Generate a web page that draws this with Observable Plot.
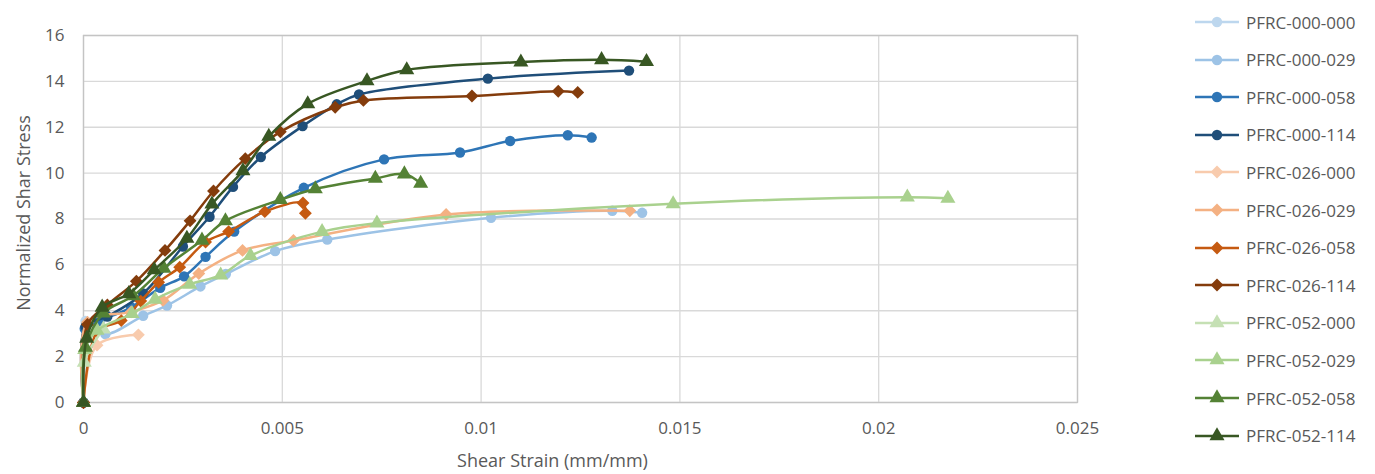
<!DOCTYPE html>
<html>
<head>
<meta charset="utf-8">
<script src="https://cdn.jsdelivr.net/npm/d3@7"></script>
<script src="https://cdn.jsdelivr.net/npm/@observablehq/plot@0.6"></script>
<style>
  html, body { margin: 0; padding: 0; background: #fff; }
  #wrap { display: flex; width: 1375px; height: 474px; font-family: "Open Sans", "Noto Sans", sans-serif; }
  #legend { position: relative; width: 195px; }
  .item { position: absolute; left: 12px; height: 20px; display: flex; align-items: center; font-size: 17px; color: #595959; white-space: nowrap; }
  .item svg { margin-right: 4px; }
</style>
</head>
<body>
<div id="wrap"><div id="chart"></div><div id="legend"></div></div>
<script>
// ---- data (strain mm/mm, normalized shear stress) ----
const seriesNames = [
  "PFRC-000-000", "PFRC-000-029", "PFRC-000-058", "PFRC-000-114",
  "PFRC-026-000", "PFRC-026-029", "PFRC-026-058", "PFRC-026-114",
  "PFRC-052-000", "PFRC-052-029", "PFRC-052-058", "PFRC-052-114"
];
const PFRC_000_000 = [[0, 0], [0.00005, 3.55]];
const PFRC_000_029 = [[0, 0], [0.0001, 3.45], [0.00055, 2.98], [0.0015, 3.78], [0.0021, 4.23], [0.00294, 5.06], [0.00358, 5.6], [0.00482, 6.6], [0.00613, 7.1], [0.01025, 8.05], [0.0133, 8.36], [0.01405, 8.27]];
const PFRC_000_058 = [[0, 0], [0.00003, 3.22], [0.0004, 3.55], [0.0012, 4.15], [0.00193, 5.0], [0.00253, 5.5], [0.00307, 6.35], [0.00379, 7.45], [0.00554, 9.36], [0.00756, 10.6], [0.00947, 10.9], [0.01073, 11.4], [0.01218, 11.65], [0.01278, 11.55]];
const PFRC_000_114 = [[0, 0], [0.00005, 3.3], [0.0006, 3.75], [0.0015, 4.75], [0.0025, 6.8], [0.00317, 8.1], [0.00376, 9.4], [0.00446, 10.7], [0.00551, 12.05], [0.00637, 13.0], [0.00693, 13.43], [0.01017, 14.12], [0.01372, 14.47]];
const PFRC_026_000 = [[0, 0], [0.00034, 2.5], [0.00138, 2.95]];
const PFRC_026_029 = [[0, 0], [0.0001, 3.5], [0.0012, 3.95], [0.002, 4.45], [0.0029, 5.62], [0.004, 6.63], [0.00528, 7.06], [0.00912, 8.2], [0.01374, 8.36]];
const PFRC_026_058 = [[0, 0], [0.00035, 3.1], [0.00095, 3.57], [0.00144, 4.42], [0.00189, 5.24], [0.00242, 5.9], [0.00307, 7.0], [0.00365, 7.45], [0.00456, 8.32], [0.00552, 8.7], [0.00558, 8.25]];
const PFRC_026_114 = [[0, 0], [0.0001, 3.4], [0.0006, 4.25], [0.00133, 5.29], [0.00205, 6.63], [0.00268, 7.92], [0.00327, 9.22], [0.00407, 10.63], [0.00495, 11.8], [0.00633, 12.87], [0.00704, 13.17], [0.00977, 13.36], [0.01194, 13.57], [0.01243, 13.52]];
const PFRC_052_000 = [[0, 0], [0.00002, 1.75], [0.0005, 3.2]];
const PFRC_052_029 = [[0, 0], [0.00003, 2.3], [0.00034, 3.14], [0.00122, 3.87], [0.0018, 4.5], [0.00267, 5.15], [0.00345, 5.55], [0.0042, 6.4], [0.006, 7.45], [0.00738, 7.82], [0.01483, 8.66], [0.02072, 8.95], [0.02174, 8.9]];
const PFRC_052_058 = [[0, 0], [0.00005, 2.4], [0.0005, 3.9], [0.00125, 4.65], [0.00202, 5.85], [0.00298, 7.07], [0.00357, 7.92], [0.00495, 8.84], [0.00583, 9.31], [0.00734, 9.77], [0.00807, 9.96], [0.00848, 9.55]];
const PFRC_052_114 = [[0, 0], [0.00008, 2.8], [0.00047, 4.15], [0.00114, 4.74], [0.00178, 5.78], [0.0026, 7.15], [0.00323, 8.65], [0.00401, 10.1], [0.00466, 11.6], [0.00564, 13.02], [0.00713, 14.02], [0.00813, 14.5], [0.011, 14.84], [0.01303, 14.94], [0.01416, 14.86]];
const seriesData = [PFRC_000_000, PFRC_000_029, PFRC_000_058, PFRC_000_114, PFRC_026_000, PFRC_026_029, PFRC_026_058, PFRC_026_114, PFRC_052_000, PFRC_052_029, PFRC_052_058, PFRC_052_114];
const xTicks = [0, 0.005, 0.01, 0.015, 0.02, 0.025];
const xTickLabels = ["0", "0.005", "0.01", "0.015", "0.02", "0.025"];
const yTicks = [0, 2, 4, 6, 8, 10, 12, 14, 16];

// ---- styles ----
const colors = ["#bdd7ee", "#9dc3e6", "#2e75b6", "#1f4e79", "#f8cbad", "#f4b183", "#c55a11", "#843c0c", "#c5e0b4", "#a9d18e", "#548235", "#385723"];
const symbols = ["circle", "circle", "circle", "circle", "diamond2", "diamond2", "diamond2", "diamond2", "triangle", "triangle", "triangle", "triangle"];
const symSize = {circle: 5.2, diamond2: 5.8, triangle: 5.6};

const rows = seriesData.map((pts, i) => pts.map(([x, y]) => ({series: seriesNames[i], x, y})));

const marks = [
  Plot.gridX(xTicks, {stroke: "#d9d9d9", strokeOpacity: 1, strokeWidth: 1.3}),
  Plot.gridY(yTicks, {stroke: "#d9d9d9", strokeOpacity: 1, strokeWidth: 1.3}),
  Plot.frame({stroke: "#c4c4c4", strokeWidth: 1.3})
];
rows.forEach((r, i) => {
  marks.push(Plot.line(r, {x: "x", y: "y", stroke: colors[i], strokeWidth: 2.5, curve: "catmull-rom"}));
  marks.push(Plot.dot(r, {x: "x", y: "y", fill: colors[i], stroke: "none", symbol: () => symbols[i], r: symSize[symbols[i]]}));
});
marks.push(
  Plot.axisX(xTicks, {tickSize: 0, tickPadding: 19, fontSize: 17, fill: "#595959",
    tickFormat: (d) => xTickLabels[xTicks.indexOf(d)],
    label: "Shear Strain (mm/mm)", labelAnchor: "center", labelArrow: "none", labelOffset: 64}),
  Plot.axisY(yTicks, {tickSize: 0, tickPadding: 19, fontSize: 17, fill: "#595959",
    label: "Normalized Shar Stress", labelAnchor: "center", labelArrow: "none", labelOffset: 66})
);

const chart = Plot.plot({
  width: 1180, height: 474,
  marginLeft: 83, marginRight: 103, marginTop: 35, marginBottom: 72,
  style: {fontFamily: "'Open Sans', 'Noto Sans', sans-serif", fontSize: "17px", color: "#595959", background: "#fff"},
  x: {domain: [0, 0.025]},
  y: {domain: [0, 16]},
  symbol: {type: "identity"},
  marks
});
d3.select(chart).selectAll('g[aria-label$="axis label"], g[aria-label$="axis label"] text')
  .attr("font-size", 18).style("font-size", "18px").attr("fill", "#595959");
// Excel centres the horizontal axis title slightly left of the plot centre
d3.select(chart).selectAll('g[aria-label="x-axis label"]').each(function () {
  const g = d3.select(this);
  g.attr("transform", "translate(-28,0) " + (g.attr("transform") || ""));
});
d3.select(chart).selectAll('g[aria-label="y-axis label"]').each(function () {
  const g = d3.select(this);
  g.attr("transform", "translate(0,-6) " + (g.attr("transform") || ""));
});
document.getElementById("chart").appendChild(chart);

// ---- legend ----
const legend = document.getElementById("legend");
const legendTop = 22, legendStep = 37.6;
const d3sym = {circle: d3.symbolCircle, diamond2: d3.symbolDiamond2, triangle: d3.symbolTriangle};
seriesNames.forEach((name, i) => {
  const div = document.createElement("div");
  div.className = "item";
  div.style.top = (legendTop + i * legendStep - 10) + "px";
  const s = d3.create("svg").attr("width", 50).attr("height", 20);
  s.append("line").attr("x1", 3).attr("x2", 47).attr("y1", 10).attr("y2", 10).attr("stroke", colors[i]).attr("stroke-width", 2.5);
  const r = symSize[symbols[i]];
  s.append("path").attr("transform", "translate(25,10)").attr("d", d3.symbol(d3sym[symbols[i]], Math.PI * r * r)).attr("fill", colors[i]);
  div.appendChild(s.node());
  const t = document.createElement("span");
  t.textContent = name;
  div.appendChild(t);
  legend.appendChild(div);
});
</script>
</body>
</html>
